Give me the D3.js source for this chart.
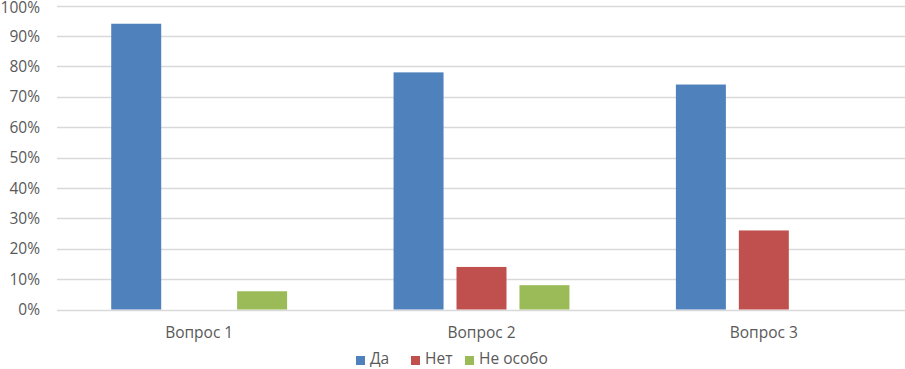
<!DOCTYPE html>
<html>
<head>
<meta charset="utf-8">
<script src="https://cdn.jsdelivr.net/npm/d3@7"></script>
<style>
  body { margin: 0; background: #fff; }
  text { font-family: "Open Sans", "Noto Sans", sans-serif; fill: #595959; }
</style>
</head>
<body>
<svg id="chart" width="905" height="369"></svg>
<script>
const categories = ["Вопрос 1", "Вопрос 2", "Вопрос 3"];
const seriesNames = ["Да", "Нет", "Не особо"];
const yesValues = [0.94, 0.78, 0.74];
const noValues = [0, 0.14, 0.26];
const notReallyValues = [0.06, 0.08, 0];
const yTicks = [0, 0.1, 0.2, 0.3, 0.4, 0.5, 0.6, 0.7, 0.8, 0.9, 1];
const colors = ["#4F81BD", "#C0504D", "#9BBB59"];

const width = 905;
const height = 369;
const margin = { left: 58, right: 0, top: 6, bottom: 60 };

const svg = d3.select("#chart");

const x = d3.scaleBand()
  .domain(categories)
  .range([margin.left, width - margin.right])
  .paddingInner(0)
  .paddingOuter(0);

const y = d3.scaleLinear()
  .domain([0, 1])
  .range([height - margin.bottom + 0.5, margin.top - 0.5]);

// inner scale for the three series inside a category
const groupWidth = x.bandwidth() * 0.623;
const xInner = d3.scaleBand()
  .domain(seriesNames)
  .range([0, groupWidth])
  .paddingInner(0.206);

// gridlines
svg.append("g")
  .selectAll("line")
  .data(yTicks)
  .join("line")
  .attr("x1", margin.left - 1)
  .attr("x2", width - margin.right)
  .attr("y1", d => Math.round(y(d)) + 0.5)
  .attr("y2", d => Math.round(y(d)) + 0.5)
  .attr("stroke", "#D9D9D9")
  .attr("stroke-width", 1.3);

// y tick labels (top one kept inside the page)
svg.append("g")
  .selectAll("text")
  .data(yTicks)
  .join("text")
  .attr("x", 40)
  .attr("y", d => Math.max(y(d) + 5.6, 13))
  .attr("text-anchor", "end")
  .attr("font-size", 15.5)
  .text(d => d3.format(".0%")(d));

const rows = categories.map((c, i) => ({
  category: c,
  values: [yesValues[i], noValues[i], notReallyValues[i]]
}));

// the bars
const groups = svg.append("g")
  .selectAll("g")
  .data(rows)
  .join("g")
  .attr("transform", d => `translate(${x(d.category) + (x.bandwidth() - groupWidth) / 2},0)`);

groups.selectAll("rect")
  .data(d => d.values.map((v, j) => ({ name: seriesNames[j], value: v, color: colors[j] })))
  .join("rect")
  .attr("x", d => xInner(d.name))
  .attr("width", xInner.bandwidth())
  .attr("y", d => y(d.value))
  .attr("height", d => y(0) - y(d.value))
  .attr("fill", d => d.color);

// category labels
svg.append("g")
  .selectAll("text")
  .data(categories)
  .join("text")
  .attr("x", d => x(d) + x.bandwidth() / 2)
  .attr("y", 338)
  .attr("text-anchor", "middle")
  .attr("font-size", 15.5)
  .text(d => d);

// legend
const legendX = [356, 411, 465];
const legend = svg.append("g")
  .selectAll("g")
  .data(seriesNames)
  .join("g")
  .attr("transform", (d, i) => `translate(${legendX[i]},364)`);

legend.append("rect")
  .attr("x", 0)
  .attr("y", -8)
  .attr("width", 9)
  .attr("height", 9)
  .attr("fill", (d, i) => colors[i]);

legend.append("text")
  .attr("x", 14)
  .attr("y", 0)
  .attr("font-size", 15.5)
  .text(d => d);
</script>
</body>
</html>
